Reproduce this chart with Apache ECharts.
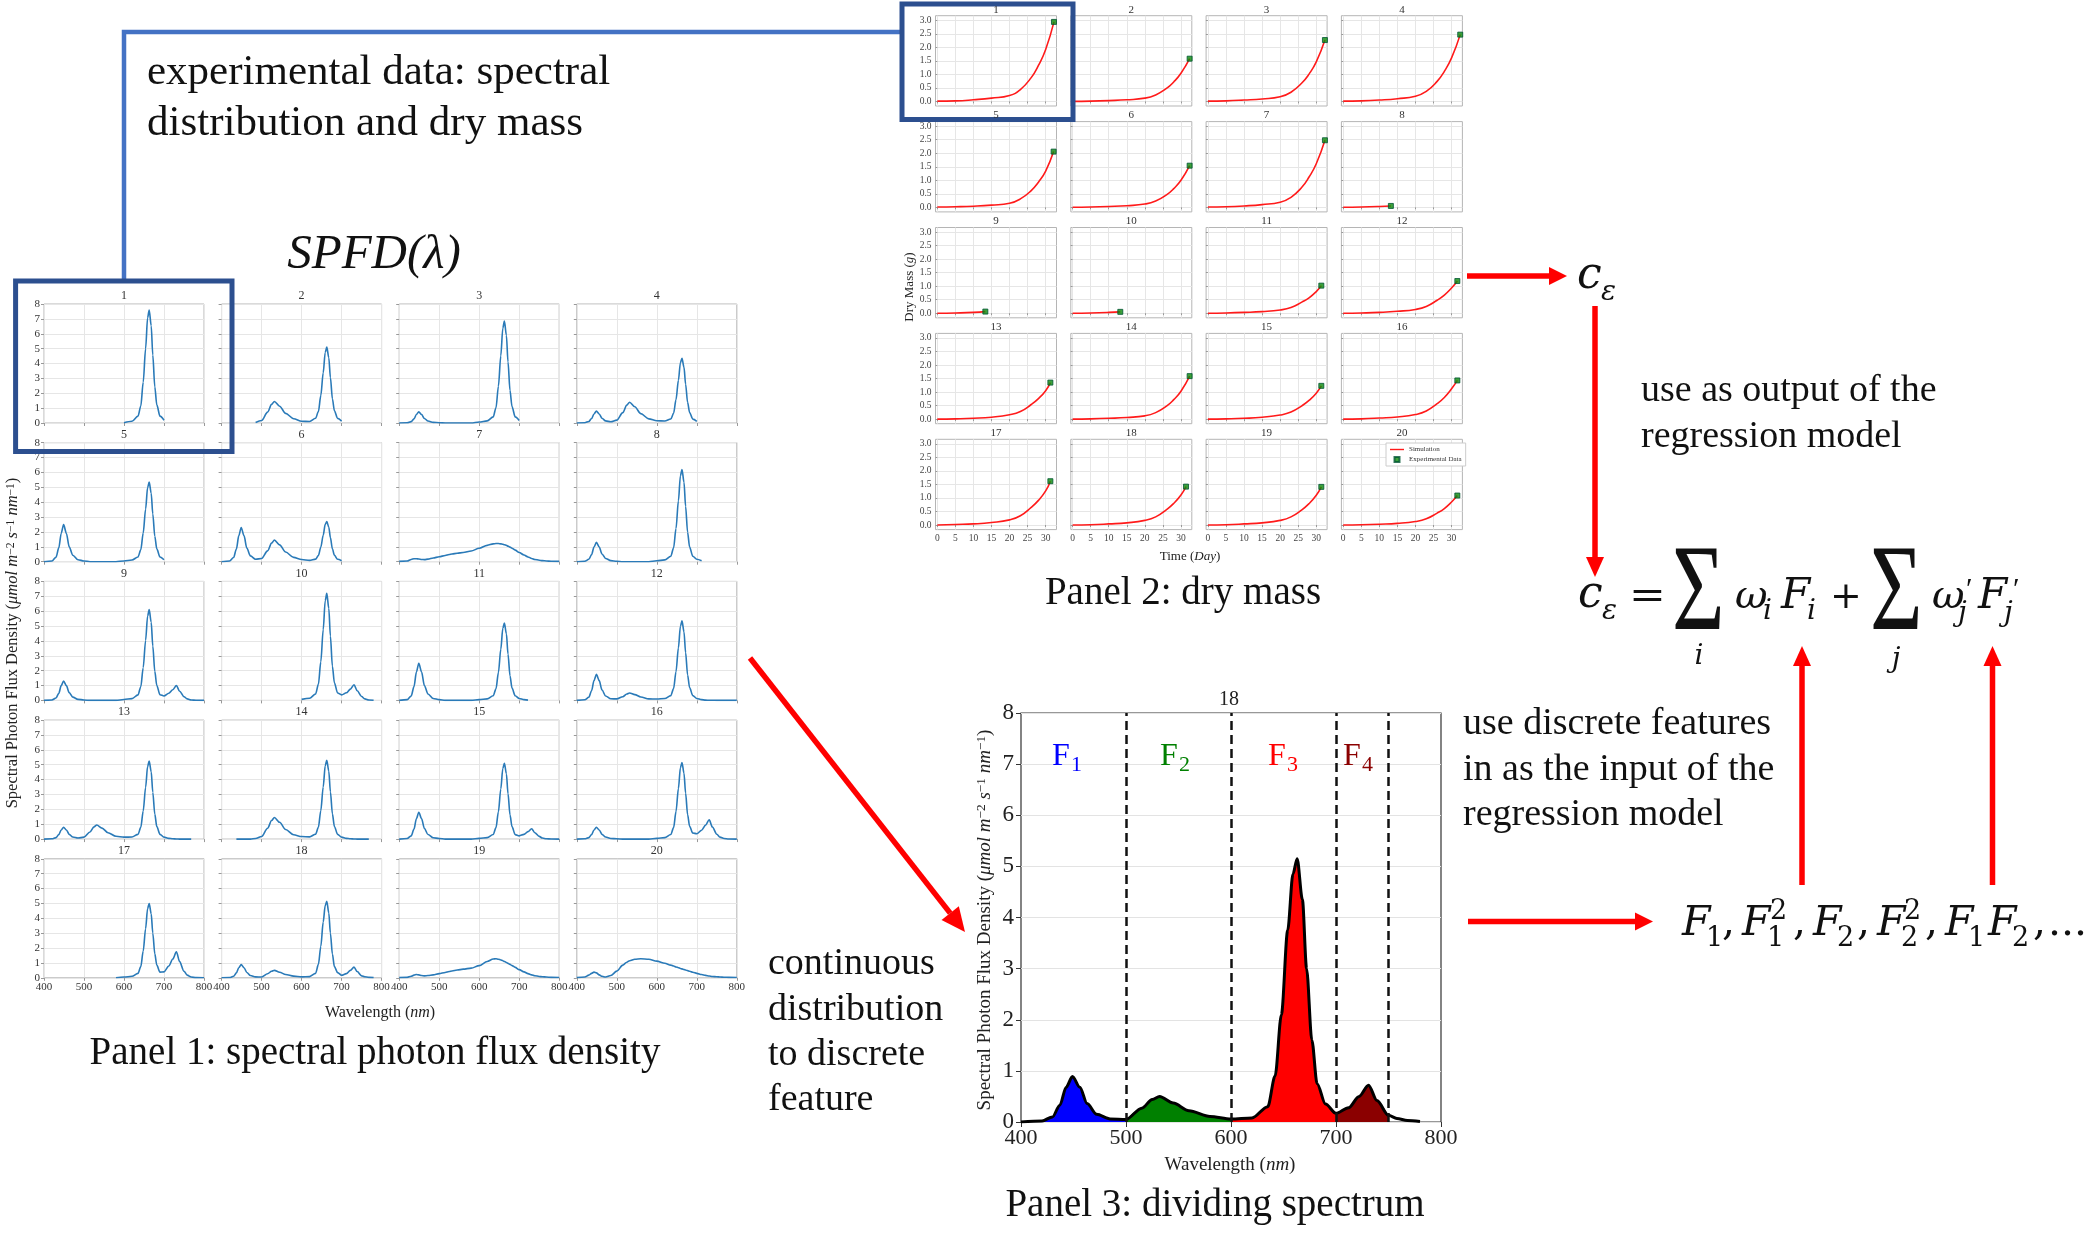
<!DOCTYPE html>
<html>
<head>
<meta charset="utf-8">
<script src="https://cdn.jsdelivr.net/npm/echarts@6/dist/echarts.min.js"></script>
<style>
  html, body { margin: 0; padding: 0; background: #fff; }
  #chart { width: 2092px; height: 1257px; }
</style>
</head>
<body>
<div id="chart"></div>
<script>
// ---- spectra (panel 1 and panel 3) ----
const wavelengths = [400,420,430,437,443,449,456,463,472,485,500,515,525,532,545,560,580,600,620,635,642,648,654,659,663,668,672,677,682,690,700,712,722,731,739,750,758,768,780,800];
const N = null;
const spfd01 = [N,N,N,N,N,N,N,N,N,N,N,N,N,N,N,N,N,0.02,0.12,0.46,1.14,2.74,5.0,7.07,7.6,6.54,4.56,2.43,1.22,0.46,0.19,N,N,N,N,N,N,N,N,N];
const spfd02 = [N,N,N,N,N,N,N,N,N,0.04,0.17,0.73,1.25,1.45,1.13,0.65,0.29,0.12,0.1,0.32,0.77,1.84,3.37,4.74,5.1,4.39,3.06,1.63,0.82,0.31,0.13,N,N,N,N,N,N,N,N,N];
const spfd03 = [0,0.02,0.09,0.28,0.57,0.75,0.57,0.3,0.13,0.04,0.02,0,0,0,0,0,0,0.07,0.14,0.41,1.03,2.47,4.52,6.37,6.85,5.89,4.11,2.19,1.1,0.41,0.17,N,N,N,N,N,N,N,N,N];
const spfd04 = [0,0.02,0.1,0.3,0.61,0.8,0.61,0.32,0.14,0.08,0.19,0.7,1.2,1.4,1.09,0.63,0.28,0.15,0.13,0.27,0.65,1.57,2.87,4.05,4.35,3.74,2.61,1.39,0.7,0.26,0.11,N,N,N,N,N,N,N,N,N];
const spfd05 = [0,0.05,0.3,0.93,1.9,2.5,1.9,1.0,0.43,0.13,0.05,0,0,0,0,0,0,0.05,0.11,0.32,0.8,1.93,3.53,4.98,5.35,4.6,3.21,1.71,0.86,0.32,0.13,N,N,N,N,N,N,N,N,N];
const spfd06 = [0,0.05,0.28,0.85,1.75,2.3,1.75,0.92,0.39,0.16,0.22,0.73,1.25,1.45,1.13,0.65,0.29,0.15,0.09,0.17,0.41,0.97,1.78,2.51,2.7,2.32,1.62,0.86,0.43,0.16,0.07,N,N,N,N,N,N,N,N,N];
const spfd07 = [0.02,0.05,0.15,0.2,0.2,0.18,0.15,0.14,0.17,0.25,0.33,0.42,0.48,0.52,0.57,0.62,0.72,0.9,1.1,1.2,1.22,1.22,1.2,1.17,1.14,1.1,1.05,0.98,0.9,0.78,0.62,0.45,0.32,0.22,0.15,0.1,0.07,0.05,0.03,0.02];
const spfd08 = [0,0.03,0.16,0.48,0.99,1.3,0.99,0.52,0.22,0.07,0.03,0,0,0,0,0,0,0.06,0.12,0.37,0.93,2.23,4.09,5.77,6.2,5.33,3.72,1.98,0.99,0.37,0.16,0.06,N,N,N,N,N,N,N,N];
const spfd09 = [0,0.03,0.16,0.48,0.99,1.3,0.99,0.52,0.22,0.07,0.03,0,0,0,0,0,0,0.06,0.12,0.37,0.92,2.2,4.03,5.67,6.1,5.25,3.66,1.95,1.0,0.38,0.3,0.48,0.72,1.0,0.62,0.25,0.1,0.03,0.01,0];
const spfd10 = [N,N,N,N,N,N,N,N,N,N,N,N,N,N,N,N,N,0.07,0.14,0.43,1.08,2.59,4.75,6.7,7.2,6.19,4.32,2.3,1.18,0.5,0.37,0.51,0.76,1.05,0.65,0.26,0.1,0.03,0.01,N];
const spfd11 = [0,0.05,0.3,0.93,1.9,2.5,1.9,1.0,0.43,0.13,0.05,0,0,0,0,0,0,0.05,0.1,0.31,0.78,1.87,3.43,4.84,5.2,4.47,3.12,1.66,0.83,0.31,0.13,0.05,0.02,N,N,N,N,N,N,N];
const spfd12 = [0,0.04,0.21,0.65,1.33,1.75,1.33,0.7,0.3,0.11,0.1,0.25,0.43,0.5,0.39,0.23,0.1,0.09,0.13,0.32,0.8,1.93,3.53,4.98,5.35,4.6,3.21,1.71,0.86,0.32,0.13,0.05,0.02,0.01,0.01,0,0,0,0,0];
const spfd13 = [0,0.02,0.1,0.3,0.61,0.8,0.61,0.32,0.14,0.07,0.13,0.48,0.82,0.95,0.74,0.43,0.19,0.13,0.14,0.32,0.79,1.89,3.47,4.88,5.25,4.52,3.15,1.68,0.84,0.32,0.13,0.05,0.02,0.01,0,0,0,0,N,N];
const spfd14 = [N,N,N,0,0,0,0,0,0,0.04,0.17,0.73,1.25,1.45,1.13,0.65,0.29,0.17,0.15,0.33,0.8,1.91,3.5,4.93,5.3,4.56,3.18,1.7,0.85,0.32,0.13,0.05,0.02,0.01,0,0,0,0,N,N];
const spfd15 = [0,0.04,0.22,0.67,1.37,1.8,1.37,0.72,0.31,0.09,0.04,0,0,0,0,0,0,0.05,0.1,0.31,0.77,1.84,3.37,4.74,5.1,4.39,3.06,1.63,0.84,0.3,0.22,0.32,0.5,0.7,0.43,0.18,0.07,0.02,0.01,0];
const spfd16 = [0,0.02,0.1,0.3,0.61,0.8,0.61,0.32,0.14,0.04,0.02,0,0,0,0,0,0,0.05,0.1,0.31,0.77,1.85,3.4,4.79,5.15,4.43,3.09,1.65,0.86,0.41,0.36,0.6,0.94,1.3,0.81,0.33,0.13,0.04,0.01,0];
const spfd17 = [N,N,N,N,N,N,N,N,N,N,N,N,N,N,N,N,0,0.05,0.1,0.3,0.75,1.8,3.3,4.65,5.0,4.3,3.0,1.61,0.85,0.38,0.4,0.79,1.26,1.75,1.09,0.44,0.18,0.05,0.01,0];
const spfd18 = [0,0.02,0.1,0.33,0.68,0.89,0.68,0.36,0.15,0.06,0.05,0.27,0.44,0.5,0.37,0.22,0.11,0.06,0.08,0.3,0.9,2.1,3.75,4.85,5.15,4.35,3.0,1.6,0.75,0.35,0.17,0.28,0.5,0.72,0.42,0.13,0.07,0.03,0.01,N];
const spfd19 = [0.01,0.03,0.1,0.18,0.22,0.2,0.15,0.13,0.15,0.2,0.28,0.36,0.42,0.46,0.52,0.58,0.65,0.82,1.1,1.26,1.28,1.25,1.2,1.15,1.1,1.03,0.97,0.9,0.82,0.7,0.55,0.4,0.28,0.2,0.14,0.09,0.07,0.05,0.03,0.02];
const spfd20 = [0.01,0.05,0.18,0.3,0.38,0.33,0.2,0.1,0.05,0.15,0.45,0.85,1.05,1.15,1.25,1.28,1.25,1.12,0.98,0.85,0.79,0.73,0.68,0.63,0.6,0.56,0.52,0.48,0.44,0.37,0.3,0.22,0.16,0.12,0.09,0.07,0.05,0.04,0.03,0.02];
const spfdList = [spfd01,spfd02,spfd03,spfd04,spfd05,spfd06,spfd07,spfd08,spfd09,spfd10,spfd11,spfd12,spfd13,spfd14,spfd15,spfd16,spfd17,spfd18,spfd19,spfd20];

// ---- dry mass (panel 2) ----
const massDays = [0,5,10,15,20,23,26,28,30];
const mass01 = [0.01,0.02,0.06,0.12,0.22,0.44,0.88,1.33,1.92];
const mass02 = [0,0.01,0.03,0.06,0.12,0.24,0.48,0.72,1.04];
const mass03 = [0.01,0.02,0.05,0.09,0.17,0.34,0.68,1.01,1.46];
const mass04 = [0.01,0.02,0.05,0.1,0.19,0.37,0.74,1.11,1.61];
const mass05 = [0.01,0.02,0.04,0.08,0.15,0.31,0.62,0.93,1.34];
const mass06 = [0,0.01,0.03,0.06,0.12,0.23,0.46,0.69,1.0];
const mass07 = [0.01,0.02,0.05,0.1,0.19,0.37,0.74,1.12,1.61];
const mass08 = [0,0.01,0.03,N,N,N,N,N,N];
const mass09 = [0,0.01,0.03,N,N,N,N,N,N];
const mass10 = [0,0.01,0.03,N,N,N,N,N,N];
const mass11 = [0,0.01,0.03,0.06,0.12,0.21,0.41,0.57,0.8];
const mass12 = [0,0.01,0.03,0.07,0.14,0.25,0.48,0.67,0.93];
const mass13 = [0,0.01,0.03,0.07,0.16,0.28,0.54,0.76,1.05];
const mass14 = [0,0.01,0.03,0.06,0.12,0.24,0.48,0.72,1.03];
const mass15 = [0,0.01,0.03,0.07,0.15,0.26,0.49,0.69,0.96];
const mass16 = [0,0.01,0.04,0.08,0.17,0.3,0.57,0.8,1.12];
const mass17 = [0,0.02,0.04,0.09,0.19,0.34,0.65,0.91,1.26];
const mass18 = [0,0.01,0.04,0.08,0.17,0.3,0.57,0.8,1.11];
const mass19 = [0,0.01,0.04,0.08,0.17,0.3,0.56,0.79,1.1];
const mass20 = [0,0.01,0.03,0.06,0.13,0.23,0.44,0.61,0.85];
const massList = [mass01,mass02,mass03,mass04,mass05,mass06,mass07,mass08,mass09,mass10,mass11,mass12,mass13,mass14,mass15,mass16,mass17,mass18,mass19,mass20];
const massEndDay = [32.3,32.4,32.4,32.4,32.2,32.4,32.4,13.2,13.3,13.2,31.4,31.6,31.3,32.4,31.4,31.6,31.3,31.4,31.4,31.6];
const massEndValue = [2.94,1.58,2.27,2.47,2.06,1.54,2.48,0.05,0.06,0.05,1.02,1.19,1.35,1.59,1.23,1.43,1.62,1.42,1.41,1.09];
const dayTicks = [0,5,10,15,20,25,30];
const massTicks = [0,0.5,1,1.5,2,2.5,3];

// ---- panel 3 bands ----
const bandEdges = [400,500,600,700,750];
const bandNames = ['F','F','F','F'];
const bandColors = ['#0000ff','#008000','#ff0000','#8b0000'];

const SERIF = '"Liberation Serif","Times New Roman",serif';
const MATH = '"DejaVu Serif",serif';

const grids = [], xAxis = [], yAxis = [], series = [], graphic = [];

function addGrid(g, xa, ya) {
  const i = grids.length;
  grids.push(Object.assign({ containLabel: false, show: true, backgroundColor: 'transparent' }, g));
  xAxis.push(Object.assign({ gridIndex: i, type: 'value' }, xa));
  yAxis.push(Object.assign({ gridIndex: i, type: 'value' }, ya));
  return i;
}

// text helper: y is the baseline unless o.mid
function T(x, y, text, size, o) {
  o = o || {};
  const fam = o.font || SERIF;
  graphic.push({
    type: 'text', x: x, y: o.mid ? y : y - 0.34 * size,
    rotation: o.rot || 0, scaleX: o.sx || 1, scaleY: o.sy || 1,
    z: 60, silent: true,
    style: {
      text: text,
      font: (o.italic ? 'italic ' : '') + size + 'px ' + fam,
      fill: o.color || '#111',
      align: o.align || 'left', textAlign: o.align || 'left',
      verticalAlign: 'middle', textVerticalAlign: 'middle',
      rich: o.rich
    }
  });
}

function arrow(x1, y1, x2, y2, w, hl, hw) {
  const L = Math.hypot(x2 - x1, y2 - y1), ux = (x2 - x1) / L, uy = (y2 - y1) / L;
  const bx = x2 - ux * hl, by = y2 - uy * hl;
  graphic.push({ type: 'line', z: 50, silent: true, shape: { x1: x1, y1: y1, x2: bx, y2: by }, style: { stroke: '#ff0000', lineWidth: w } });
  graphic.push({ type: 'polygon', z: 50, silent: true,
    shape: { points: [[x2, y2], [bx - uy * hw / 2, by + ux * hw / 2], [bx + uy * hw / 2, by - ux * hw / 2]] },
    style: { fill: '#ff0000' } });
}

// ---------- panel 1: 20 small spectra ----------
spfdList.forEach(function (s, k) {
  const r = Math.floor(k / 4), c = k % 4;
  const left = 44 + c * 177.6, top = 304 + r * 138.7;
  const gi = addGrid({ left: left, top: top, width: 160, height: 119, borderColor: '#b5b5b5', borderWidth: 1 },
    { min: 400, max: 800, interval: 100,
      axisLine: { show: false }, axisTick: { show: true, length: 3, lineStyle: { color: '#999' } },
      axisLabel: { show: r === 4, fontSize: 11, color: '#333', fontFamily: SERIF, margin: 4 },
      splitLine: { show: true, lineStyle: { color: '#e6e6e6' } } },
    { min: 0, max: 8, interval: 1,
      axisLine: { show: false }, axisTick: { show: true, length: 3, lineStyle: { color: '#999' } },
      axisLabel: { show: c === 0, fontSize: 11, color: '#333', fontFamily: SERIF, margin: 4 },
      splitLine: { show: true, lineStyle: { color: '#e6e6e6' } } });
  series.push({
    type: 'line', xAxisIndex: gi, yAxisIndex: gi, silent: true,
    data: wavelengths.map(function (w, j) { return [w, s[j]]; }),
    showSymbol: false, smooth: 0.3, smoothMonotone: 'x', connectNulls: false,
    lineStyle: { color: '#2a7ab8', width: 1.6 }
  });
  T(left + 80, top - 8, String(k + 1), 12, { align: 'center', mid: true, color: '#333' });
});

// ---------- panel 2: 20 dry mass plots ----------
massList.forEach(function (m, k) {
  const r = Math.floor(k / 4), c = k % 4;
  const left = 935.5 + c * 135.3, top = 15.7 + r * 105.9;
  const gi = addGrid({ left: left, top: top, width: 121, height: 90.3, borderColor: '#b5b5b5', borderWidth: 1 },
    { min: -0.5, max: 33,
      axisLine: { show: false },
      axisTick: { show: true, length: 2, customValues: dayTicks, lineStyle: { color: '#999' } },
      axisLabel: { show: r === 4, customValues: dayTicks, fontSize: 9.5, color: '#444', fontFamily: SERIF, margin: 4 },
      splitLine: { show: true, lineStyle: { color: '#e6e6e6' } } },
    { min: -0.17, max: 3.17,
      axisLine: { show: false },
      axisTick: { show: true, length: 2, customValues: massTicks, lineStyle: { color: '#999' } },
      axisLabel: { show: c === 0, customValues: massTicks, fontSize: 9.5, color: '#444', fontFamily: SERIF, margin: 4,
        formatter: function (v) { return v.toFixed(1); } },
      splitLine: { show: true, lineStyle: { color: '#e6e6e6' } } });
  const pts = massDays.map(function (d, j) { return [d, m[j]]; })
    .filter(function (p) { return p[1] != null; })
    .concat([[massEndDay[k], massEndValue[k]]]);
  series.push({ type: 'line', name: 'Simulation', xAxisIndex: gi, yAxisIndex: gi, silent: true,
    data: pts, showSymbol: false, smooth: 0.5,
    lineStyle: { color: '#ff1a1a', width: 1.6 }, itemStyle: { color: '#ff1a1a' } });
  series.push({ type: 'scatter', name: 'Experimental Data', xAxisIndex: gi, yAxisIndex: gi, silent: true,
    data: [[massEndDay[k], massEndValue[k]]], symbol: 'rect', symbolSize: 5,
    itemStyle: { color: '#0a8a0a', borderColor: '#053', borderWidth: 1 }, z: 5 });
  T(left + 60.5, top - 6, String(k + 1), 11, { align: 'center', mid: true, color: '#333' });
});

// ---------- panel 3: divided spectrum 18 ----------
const g3 = addGrid({ left: 1021, top: 713, width: 420, height: 409, borderColor: '#333', borderWidth: 1.2 },
  { min: 400, max: 800, interval: 100,
    axisLine: { show: false }, axisTick: { show: true, length: 5, lineStyle: { color: '#333' } },
    axisLabel: { fontSize: 22, color: '#222', fontFamily: SERIF, margin: 5 },
    splitLine: { show: false } },
  { min: 0, max: 8, interval: 1,
    axisLine: { show: false }, axisTick: { show: true, length: 5, lineStyle: { color: '#333' } },
    axisLabel: { fontSize: 23, color: '#222', fontFamily: SERIF, margin: 7 },
    splitLine: { show: true, lineStyle: { color: '#e3e3e3' } } });
const spec18 = wavelengths.map(function (w, j) { return [w, spfd18[j]]; }).filter(function (p) { return p[1] != null; });
bandColors.forEach(function (col, b) {
  const lo = bandEdges[b], hi = bandEdges[b + 1];
  series.push({ type: 'line', xAxisIndex: g3, yAxisIndex: g3, silent: true,
    data: spec18.filter(function (p) { return p[0] >= lo && p[0] <= hi; }),
    showSymbol: false, smooth: 0.3, smoothMonotone: 'x',
    lineStyle: { width: 0 }, areaStyle: { color: col, opacity: 1 } });
});
series.push({ type: 'line', xAxisIndex: g3, yAxisIndex: g3, silent: true, data: spec18,
  showSymbol: false, smooth: 0.3, smoothMonotone: 'x', z: 4,
  lineStyle: { color: '#000', width: 3 },
  markLine: { silent: true, symbol: ['none', 'none'], label: { show: false },
    lineStyle: { type: [9, 5], color: '#111', width: 2.5 },
    data: bandEdges.slice(1).map(function (v) { return { xAxis: v }; }) } });

// ---------- texts ----------
// panel 1
T(147, 87, 'experimental data: spectral', 43);
T(147, 138, 'distribution and dry mass', 43);
T(374, 272, 'SPFD(λ)', 49, { italic: true, align: 'center' });
T(380, 1013, '{n|Wavelength (}{i|nm}{n|)}', 16, { align: 'center', mid: true,
  rich: { n: { fontSize: 16, fontFamily: SERIF, fill: '#222' }, i: { fontSize: 16, fontFamily: SERIF, fontStyle: 'italic', fill: '#222' } } });
const ylabRich = function (sz) {
  return { n: { fontSize: sz, fontFamily: SERIF, fill: '#222' },
           i: { fontSize: sz, fontFamily: SERIF, fontStyle: 'italic', fill: '#222' },
           s: { fontSize: sz * 0.7, fontFamily: SERIF, fill: '#222', verticalAlign: 'top' } };
};
const ylabText = '{n|Spectral Photon Flux Density (}{i|μmol m}{s|−2}{i| s}{s|−1}{i| nm}{s|−1}{n|)}';
T(13, 643, ylabText, 16.5, { align: 'center', mid: true, rot: Math.PI / 2, rich: ylabRich(16.5) });
T(375, 1067, 'Panel 1: spectral photon flux density', 39, { align: 'center' });

// panel 2
T(1190, 557, '{n|Time (}{i|Day}{n|)}', 13, { align: 'center', mid: true,
  rich: { n: { fontSize: 13, fontFamily: SERIF, fill: '#222' }, i: { fontSize: 13, fontFamily: SERIF, fontStyle: 'italic', fill: '#222' } } });
T(910, 287, '{n|Dry Mass (}{i|g}{n|)}', 13, { align: 'center', mid: true, rot: Math.PI / 2,
  rich: { n: { fontSize: 13, fontFamily: SERIF, fill: '#222' }, i: { fontSize: 13, fontFamily: SERIF, fontStyle: 'italic', fill: '#222' } } });
T(1183, 607, 'Panel 2: dry mass', 39, { align: 'center' });

// panel 3
T(1229, 700, '18', 20, { align: 'center', mid: true, color: '#222' });
T(1230, 1165, '{n|Wavelength (}{i|nm}{n|)}', 19, { align: 'center', mid: true,
  rich: { n: { fontSize: 19, fontFamily: SERIF, fill: '#222' }, i: { fontSize: 19, fontFamily: SERIF, fontStyle: 'italic', fill: '#222' } } });
T(985, 920, ylabText, 19, { align: 'center', mid: true, rot: Math.PI / 2, rich: ylabRich(19) });
T(1215, 1219, 'Panel 3: dividing spectrum', 39, { align: 'center' });
const fLabelX = [1052, 1160, 1268, 1343];
fLabelX.forEach(function (x, b) {
  T(x, 767, bandNames[b], 32, { color: bandColors[b] });
  T(x + 19, 773, String(b + 1), 22, { color: bandColors[b] });
});

// middle / right texts
T(768, 977, 'continuous', 38);
T(768, 1023, 'distribution', 38);
T(768, 1068, 'to discrete', 38);
T(768, 1113, 'feature', 38);
T(1641, 404, 'use as output of the', 38);
T(1641, 450, 'regression model', 38);
T(1463, 737, 'use discrete features', 38);
T(1463, 783, 'in as the input of the', 38);
T(1463, 828, 'regression model', 38);

// c_eps at top
T(1577, 292, 'c', 44, { font: MATH, italic: true });
T(1601, 302, 'ε', 28, { font: MATH, italic: true });

// equation
T(1578, 611, 'c', 44, { font: MATH, italic: true });
T(1602, 621, 'ε', 28, { font: MATH, italic: true });
T(1629, 611, '=', 40, { font: MATH, sx: 1.1 });
T(1672, 638, 'Σ', 122, { sx: 0.74 });
T(1699, 666, 'i', 28, { font: MATH, italic: true, align: 'center' });
T(1735, 611, 'ω', 40, { font: MATH, italic: true });
T(1763, 621, 'i', 28, { font: MATH, italic: true });
T(1781, 611, 'F', 42, { font: MATH, italic: true });
T(1807, 621, 'i', 28, { font: MATH, italic: true });
T(1830, 611, '+', 38, { font: MATH });
T(1870, 638, 'Σ', 122, { sx: 0.74 });
T(1896, 669, 'j', 28, { font: MATH, italic: true, align: 'center' });
T(1932, 611, 'ω', 40, { font: MATH, italic: true });
T(1966, 600, '′', 30, { font: SERIF });
T(1958, 623, 'j', 28, { font: MATH, italic: true });
T(1978, 611, 'F', 42, { font: MATH, italic: true });
T(2013, 600, '′', 30, { font: SERIF });
T(2004, 623, 'j', 28, { font: MATH, italic: true });

// feature list
const FM = { font: MATH, italic: true };
T(1682, 938, 'F', 41, FM); T(1706, 948, '1', 27, { font: MATH }); T(1722, 938, ',', 41, { font: MATH });
T(1742, 938, 'F', 41, FM); T(1767, 948, '1', 27, { font: MATH }); T(1770, 921, '2', 27, { font: MATH }); T(1793, 938, ',', 41, { font: MATH });
T(1813, 938, 'F', 41, FM); T(1837, 948, '2', 27, { font: MATH }); T(1857, 938, ',', 41, { font: MATH });
T(1877, 938, 'F', 41, FM); T(1901, 948, '2', 27, { font: MATH }); T(1904, 921, '2', 27, { font: MATH }); T(1925, 938, ',', 41, { font: MATH });
T(1945, 938, 'F', 41, FM); T(1968, 948, '1', 27, { font: MATH });
T(1988, 938, 'F', 41, FM); T(2012, 948, '2', 27, { font: MATH }); T(2033, 938, ',', 41, { font: MATH });
T(2048, 938, '...', 41, { font: MATH });

// ---------- connectors, boxes, arrows ----------
graphic.push({ type: 'polyline', z: 40, silent: true, shape: { points: [[124, 281], [124, 32], [902, 32]] },
  style: { stroke: '#4472c4', lineWidth: 4.5, fill: 'none' } });
graphic.push({ type: 'rect', z: 45, silent: true, shape: { x: 15.6, y: 281, width: 216.4, height: 170.5 },
  style: { stroke: '#2c4f8f', lineWidth: 5, fill: 'none' } });
graphic.push({ type: 'rect', z: 45, silent: true, shape: { x: 902, y: 4, width: 171, height: 115.5 },
  style: { stroke: '#2c4f8f', lineWidth: 5, fill: 'none' } });
arrow(1467, 276, 1567, 276, 5.5, 18, 18);
arrow(1595, 306, 1595, 577, 5.5, 20, 18);
arrow(1802, 885, 1802, 646, 5.5, 20, 18);
arrow(1992.5, 885, 1992.5, 646, 5.5, 20, 18);
arrow(1468, 921.5, 1653, 921.5, 5.5, 18, 18);
arrow(750, 658, 965, 932, 5.5, 24, 22);

const chart = echarts.init(document.getElementById('chart'), null, { renderer: 'canvas' });
chart.setOption({
  animation: false,
  backgroundColor: '#ffffff',
  grid: grids,
  xAxis: xAxis,
  yAxis: yAxis,
  legend: {
    left: 1386, top: 443, orient: 'vertical', selectedMode: false,
    itemWidth: 14, itemHeight: 5, itemGap: 3, padding: [3, 4],
    borderColor: '#cccccc', borderWidth: 1, backgroundColor: '#fff',
    textStyle: { fontSize: 7, fontFamily: SERIF, color: '#333' },
    data: [
      { name: 'Simulation', icon: 'path://M0,0H40V4H0Z' },
      { name: 'Experimental Data', icon: 'path://M0,0H10V10H0Z' }
    ]
  },
  series: series,
  graphic: graphic
});
window.addEventListener('resize', function () { chart.resize(); });
</script>
</body>
</html>
